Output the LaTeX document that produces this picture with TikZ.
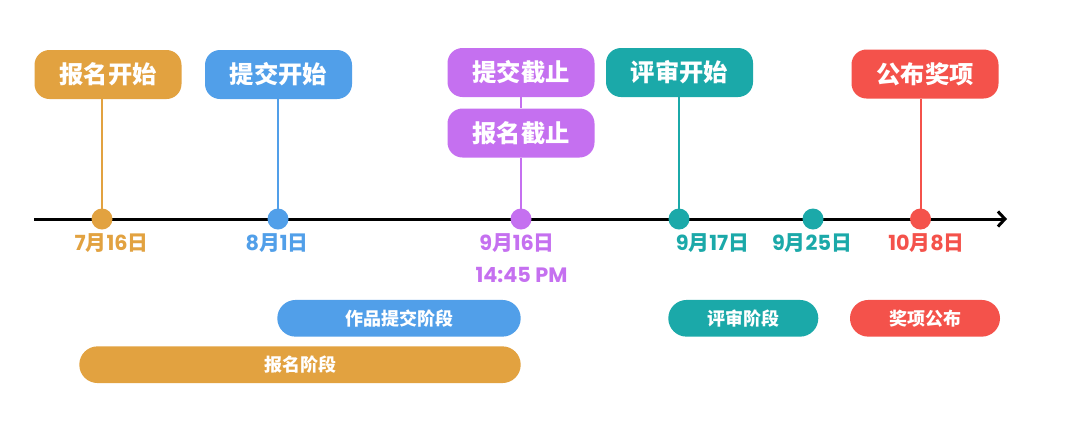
\documentclass[tikz,border=0pt]{standalone}
\usepackage{fontspec}
\setmainfont{Noto Sans CJK SC}
\newfontfamily\pop{Poppins}
\usetikzlibrary{arrows.meta}
\definecolor{cOr}{HTML}{E2A240}
\definecolor{cBl}{HTML}{519FE9}
\definecolor{cPu}{HTML}{C570F0}
\definecolor{cTe}{HTML}{1BA9A9}
\definecolor{cRe}{HTML}{F4524B}
\pgfdeclarelayer{bg}
\pgfsetlayers{bg,main}
\newcommand\mydate[2]{{\pop #1}月{\pop #2}日}
\tikzset{
  topbox/.style={fill=#1, text=white, font=\bfseries\fontsize{24.3}{27}\selectfont,
    minimum width=147pt, minimum height=49pt, rounded corners=15pt, inner sep=0pt},
  barbox/.style={fill=#1, text=white, font=\bfseries\fontsize{18}{21}\selectfont,
    minimum height=36.7pt, rounded corners=18.3pt, inner sep=0pt},
  dotn/.style={circle, fill=#1, minimum size=21pt, inner sep=0pt},
  datelbl/.style={text=#1, font=\bfseries\fontsize{20.8}{23}\selectfont, inner sep=0pt},
  conn/.style={draw=#1, line width=2pt},
}
\begin{document}
\begin{tikzpicture}[x=1pt,y=-1pt]
\useasboundingbox (0,0) rectangle (1080,432);
% axis
\coordinate (axL) at (34,219);
\coordinate (axR) at (1007,219);
% top boxes
\node[topbox=cOr] (o1) at (108,74.5) {报名开始};
\node[topbox=cBl] (b1) at (278.5,74.5) {提交开始};
\node[topbox=cPu] (p1) at (521,72.5) {提交截止};
\node[topbox=cPu] (p2) at (521,133) {报名截止};
\node[topbox=cTe] (t1) at (679.5,72.5) {评审开始};
\node[topbox=cRe] (r1) at (925,74) {公布奖项};
% dots
\node[dotn=cOr] (d1) at (102,219) {};
\node[dotn=cBl] (d2) at (278,219) {};
\node[dotn=cPu] (d3) at (521,219) {};
\node[dotn=cTe] (d4) at (679,219) {};
\node[dotn=cTe] (d5) at (813,219) {};
\node[dotn=cRe] (d6) at (920.5,219) {};
\begin{pgfonlayer}{bg}
\fill[white] (0,0) rectangle (1080,432);
\draw[line width=3pt, -{Straight Barb[length=7pt,width=15pt]}] (axL) -- (axR);
\draw[conn=cOr] (d1 |- o1.south) -- (d1.center);
\draw[conn=cBl] (d2 |- b1.south) -- (d2.center);
\draw[conn=cPu] (p1.south) -- (p2.north);
\draw[conn=cPu] (p2.south) -- (d3.center);
\draw[conn=cTe] (d4 |- t1.south) -- (d4.center);
\draw[conn=cRe] (d6 |- r1.south) -- (d6.center);
\end{pgfonlayer}
% date labels
\node[datelbl=cOr] (l1) at (111.5,243) {\mydate{7}{16}};
\node[datelbl=cBl] (l2) at (277,243) {\mydate{8}{1}};
\node[datelbl=cPu] (l3) at (517,243) {\mydate{9}{16}};
\node[datelbl=cPu] (l3b) at (521.5,275) {\pop 14:45 PM};
\node[datelbl=cTe] (l4) at (712.5,243) {\mydate{9}{17}};
\node[datelbl=cTe] (l5) at (812,243) {\mydate{9}{25}};
\node[datelbl=cRe] (l6) at (926.5,243) {\mydate{10}{8}};
% phase bars
\node[barbox=cBl, minimum width=243.4pt] (s1) at (399,318.3) {作品提交阶段};
\node[barbox=cOr, minimum width=441.4pt] (s2) at (300,364.7) {报名阶段};
\node[barbox=cTe, minimum width=150pt] (s3) at (743.3,318.3) {评审阶段};
\node[barbox=cRe, minimum width=150pt] (s4) at (925,318.3) {奖项公布};
\end{tikzpicture}
\end{document}
